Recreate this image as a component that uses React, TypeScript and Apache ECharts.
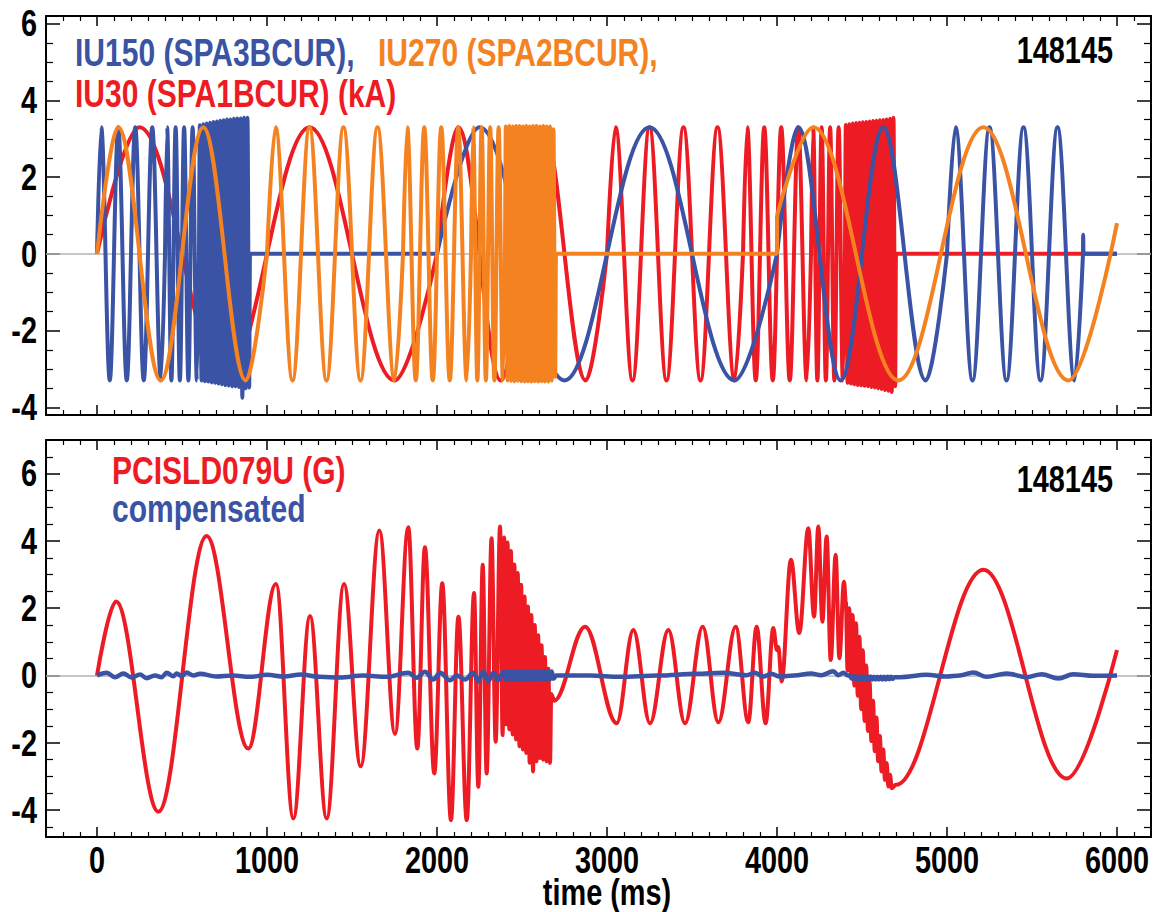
import React, { useEffect, useRef } from "react";
import * as echarts from "echarts";

const FONT = '"Liberation Sans", Arial, Helvetica, sans-serif';
const FONT_SIZE = 37;
const NARROW = 0.78;
const LEGEND_SIZE = 38;
const LEGEND_NARROW = 0.79;
const RED = "#ED1C24";
const BLUE = "#3A53A4";
const ORANGE = "#F58220";
const GRAY = "#B5B5B5";

// ---- Top panel: coil currents (kA). Segments split where the frequency changes.
const iu30Segments: number[][][] = [
  [[0, 0], [250, 3.3], [750, -3.3], [1250, 3.3], [1750, -3.3], [2000, 0]],
  [[2000, 0], [2125, 3.3], [2375, -3.3], [2625, 3.3], [2875, -3.3], [3000, 0]],
  [[3000, 0], [3050, 3.3], [3150, -3.3], [3250, 3.3], [3350, -3.3], [3450, 3.3], [3550, -3.3], [3650, 3.3], [3750, -3.3], [3800, 0]],
  [[3800, 0], [3825, 3.3], [3875, -3.3], [3925, 3.3], [3975, -3.3], [4025, 3.3], [4075, -3.3], [4125, 3.3], [4175, -3.3], [4200, 0]],
  [[4200, 0], [4212.5, 3.3], [4237.5, -3.3], [4262.5, 3.3], [4287.5, -3.3], [4312.5, 3.3], [4337.5, -3.3], [4362.5, 3.3], [4387.5, -3.3], [4400, 0]],
  [[4400, 0], [4405, 3.36], [4415, -3.36], [4425, 3.38], [4435, -3.38], [4445, 3.4], [4455, -3.4], [4465, 3.41], [4475, -3.42], [4485, 3.42], [4495, -3.43], [4505, 3.43], [4515, -3.44], [4525, 3.44], [4535, -3.45], [4545, 3.45], [4555, -3.47], [4565, 3.46], [4575, -3.48], [4585, 3.47], [4595, -3.5], [4605, 3.48], [4615, -3.52], [4625, 3.49], [4635, -3.55], [4645, 3.5], [4655, -3.57], [4665, 3.52], [4675, -3.6], [4685, 3.55], [4695, -3.45], [4700, 0], [6000, 0]],
];

const iu150Segments: number[][][] = [
  [[0, 0], [25, 3.3], [75, -3.3], [125, 3.3], [175, -3.3], [225, 3.3], [275, -3.3], [325, 3.3], [375, -3.3], [400, 0]],
  [[400, 0], [412.5, 3.3], [437.5, -3.3], [462.5, 3.3], [487.5, -3.3], [512.5, 3.3], [537.5, -3.3], [562.5, 3.3], [587.5, -3.3], [600, 0]],
  [[600, 0], [605, 3.35], [615, -3.3], [625, 3.38], [635, -3.32], [645, 3.4], [655, -3.33], [665, 3.42], [675, -3.35], [685, 3.44], [695, -3.36], [705, 3.45], [715, -3.38], [725, 3.47], [735, -3.4], [745, 3.48], [755, -3.42], [765, 3.5], [775, -3.43], [785, 3.5], [795, -3.45], [805, 3.52], [815, -3.45], [825, 3.53], [835, -3.47], [845, 3.53], [855, -3.75], [865, 3.55], [875, -3.5], [885, 3.55], [895, -3.48], [900, 0], [2000, 0]],
  [[2000, 0], [2250, 3.3], [2750, -3.3], [3250, 3.3], [3750, -3.3], [4000, 0]],
  [[4000, 0], [4125, 3.3], [4375, -3.3], [4625, 3.3], [4875, -3.3], [5000, 0]],
  [[5000, 0], [5050, 3.3], [5150, -3.3], [5250, 3.3], [5350, -3.3], [5450, 3.3], [5550, -3.3], [5650, 3.3], [5750, -3.3], [5800, 0]],
  [[5800, 0], [5801, 0.5], [5803, 0], [6000, 0]],
];

const iu270Segments: number[][][] = [
  [[0, 0], [125, 3.3], [375, -3.3], [625, 3.3], [875, -3.3], [1000, 0]],
  [[1000, 0], [1050, 3.3], [1150, -3.3], [1250, 3.3], [1350, -3.3], [1450, 3.3], [1550, -3.3], [1650, 3.3], [1750, -3.3], [1800, 0]],
  [[1800, 0], [1825, 3.3], [1875, -3.3], [1925, 3.3], [1975, -3.3], [2025, 3.3], [2075, -3.3], [2125, 3.3], [2175, -3.3], [2200, 0]],
  [[2200, 0], [2212.5, 3.3], [2237.5, -3.3], [2262.5, 3.3], [2287.5, -3.3], [2312.5, 3.3], [2337.5, -3.3], [2362.5, 3.3], [2387.5, -3.3], [2400, 0]],
  [[2400, 0], [2405, 3.32], [2415, -3.3], [2425, 3.33], [2435, -3.31], [2445, 3.32], [2455, -3.32], [2465, 3.33], [2475, -3.31], [2485, 3.33], [2495, -3.32], [2505, 3.32], [2515, -3.33], [2525, 3.33], [2535, -3.32], [2545, 3.32], [2555, -3.33], [2565, 3.33], [2575, -3.32], [2585, 3.33], [2595, -3.33], [2605, 3.32], [2615, -3.32], [2625, 3.33], [2635, -3.33], [2645, 3.32], [2655, -3.33], [2665, 3.32], [2675, -3.3], [2685, 3.25], [2695, -3.2], [2700, 0], [4000, 0], [4000, 1.0]],
  [[4000, 1.0], [4214, 3.3], [4714, -3.3], [5214, 3.3], [5714, -3.3], [6000, 0.8]],
];

// ---- Bottom panel: probe signal (G) and compensated signal.
const pcisld079u: number[][] = [
  [0, 0], [112, 2.2], [361, -4.05], [645, 4.15], [890, -2.17], [1053, 2.72], [1155, -4.25], [1253, 1.77], [1351, -4.25],
  [1453, 2.72], [1551, -2.7], [1661, 4.31], [1753, -1.74], [1831, 4.41], [1884, -2.17], [1929, 3.81], [1984, -2.91],
  [2031, 2.74], [2082, -4.3], [2126, 1.75], [2175, -4.3], [2218, 2.45], [2243, -3.31], [2269, 3.29], [2292, -2.91],
  [2321, 4.08], [2345, -1.97], [2371, 4.43], [2386, -1.77],
  [2395, 4.1], [2405, -1.45], [2415, 3.95], [2425, -1.6], [2435, 3.7], [2445, -1.75], [2455, 3.3], [2465, -1.9],
  [2475, 3.05], [2485, -2.1], [2495, 2.7], [2505, -2.2], [2515, 2.35], [2525, -2.3], [2535, 2.05], [2545, -2.6],
  [2555, 1.8], [2565, -2.85], [2575, 1.5], [2585, -2.55], [2595, 1.2], [2605, -2.45], [2615, 0.9], [2625, -2.5],
  [2635, 0.55], [2645, -2.55], [2655, 0.2], [2665, -2.6], [2672, -0.55], [2690, -0.75],
  [2871, 1.45], [3057, -1.42], [3155, 1.35], [3253, -1.42], [3361, 1.35], [3459, -1.42], [3563, 1.45], [3655, -1.39],
  [3757, 1.45], [3831, -1.39], [3880, 1.45], [3933, -1.42], [3978, 1.41], [4000, 0.75], [4008, 0.85], [4027, -0.18],
  [4082, 3.44], [4131, 1.26], [4184, 4.38], [4218, 1.75], [4243, 4.43], [4267, 1.6], [4292, 4.13], [4316, 0.46],
  [4345, 3.59], [4367, 0.51], [4394, 2.79],
  [4405, 2.2], [4415, 0.15], [4425, 2.0], [4435, 0.0], [4445, 1.8], [4455, -0.3], [4465, 1.55], [4475, -0.6],
  [4485, 1.15], [4495, -1.0], [4505, 0.75], [4515, -1.35], [4525, 0.3], [4535, -1.65], [4545, -0.2], [4555, -1.95],
  [4565, -0.75], [4575, -2.25], [4585, -1.25], [4595, -2.55], [4605, -1.8], [4615, -2.85], [4625, -2.2], [4635, -3.1],
  [4645, -2.6], [4655, -3.3], [4665, -2.95], [4675, -3.35],
  [4700, -3.25], [5214, 3.14], [5704, -3.06], [6000, 0.76],
];

const compensated: number[][] = [
  [0, 0], [57, 0.08], [106, -0.05], [155, 0.06], [204, -0.06], [253, 0.03], [292, -0.08], [341, 0.0], [380, -0.05],
  [410, 0.08], [449, -0.02], [469, 0.06], [498, -0.02], [527, 0.09], [567, 0.0], [606, 0.05], [700, -0.03], [800, 0.0],
  [900, -0.04], [1000, 0.02], [1100, -0.03], [1200, 0.03], [1312, -0.04], [1429, -0.06], [1567, 0.0], [1704, -0.04],
  [1831, 0.08], [1880, -0.07], [1929, 0.11], [1978, -0.12], [2018, 0.08], [2076, -0.14], [2116, 0.0], [2165, -0.12],
  [2214, 0.08], [2243, -0.17], [2273, 0.11], [2302, -0.17], [2331, 0.08], [2361, -0.14], [2386, 0.08],
  [2395, 0.12], [2405, -0.13], [2415, 0.13], [2425, -0.12], [2435, 0.12], [2445, -0.13], [2455, 0.13], [2465, -0.12],
  [2475, 0.12], [2485, -0.13], [2495, 0.12], [2505, -0.12], [2515, 0.13], [2525, -0.12], [2535, 0.12], [2545, -0.13],
  [2555, 0.12], [2565, -0.12], [2575, 0.12], [2585, -0.12], [2595, 0.12], [2605, -0.12], [2615, 0.12], [2625, -0.12],
  [2635, 0.12], [2645, -0.12], [2655, 0.12], [2665, -0.12], [2675, 0.12], [2685, -0.1],
  [2700, 0.0], [2900, 0.0], [3076, -0.04], [3300, 0.0], [3526, 0.05], [3684, 0.08], [3821, 0.01], [3869, 0.08],
  [3918, -0.03], [3967, 0.05], [4016, -0.03], [4100, 0.0], [4200, 0.06], [4260, 0.01], [4331, 0.13], [4360, 0.01],
  [4390, 0.08], [4420, 0.0],
  [4430, -0.02], [4440, -0.1], [4450, -0.02], [4460, -0.11], [4470, -0.03], [4480, -0.12], [4490, -0.03], [4500, -0.12],
  [4510, -0.03], [4520, -0.12], [4530, -0.03], [4540, -0.12], [4550, -0.03], [4560, -0.12], [4570, -0.04], [4580, -0.12],
  [4590, -0.04], [4600, -0.12], [4610, -0.04], [4620, -0.12], [4630, -0.04], [4640, -0.12], [4650, -0.04], [4660, -0.11],
  [4670, -0.04], [4680, -0.1], [4690, -0.05],
  [4724, -0.05], [4880, 0.02], [4997, -0.03], [5076, 0.0], [5155, 0.09], [5233, -0.04], [5351, 0.06], [5469, -0.05],
  [5557, 0.04], [5655, -0.09], [5743, 0.04], [5860, -0.01], [6000, 0.0],
];

const X_MIN = -300;
const X_MAX = 6200;
const X_STEP = 1000;
const TOP_Y = [-4.2, 6.2];
const BOT_Y = [-4.8, 7];
const Y_STEP = 2;
const X_TICK_LABELS = [0, 1000, 2000, 3000, 4000, 5000, 6000];
const Y_TICK_LABELS = [-4, -2, 0, 2, 4, 6];

const topLabels = [
  { text: "IU150 (SPA3BCUR),", color: BLUE, x: 75, y: 53 },
  { text: "IU270 (SPA2BCUR),", color: ORANGE, x: 378, y: 53 },
  { text: "IU30 (SPA1BCUR) (kA)", color: RED, x: 75, y: 94 },
];
const bottomLabels = [
  { text: "PCISLD079U (G)", color: RED, x: 112, y: 471 },
  { text: "compensated", color: BLUE, x: 112, y: 509 },
];
const SHOT = "148145";
const X_NAME = "time (ms)";

function joinSegments(segs: number[][][]) {
  const out: any[] = [];
  segs.forEach((s, i) => {
    if (i > 0) out.push([s[0][0], null]);
    s.forEach((p) => out.push(p));
  });
  return out;
}

const lineBase = {
  type: "line",
  showSymbol: false,
  symbol: "none",
  smooth: 0.36,
  smoothMonotone: "x",
  connectNulls: false,
  silent: true,
};

function xAxisDef(gridIndex: number, position: string) {
  return {
    type: "value",
    gridIndex,
    position,
    min: X_MIN,
    max: X_MAX,
    splitNumber: 7,
    minInterval: X_STEP,
    maxInterval: X_STEP,
    axisLine: { show: true, onZero: false, lineStyle: { color: "#000", width: 2 } },
    axisTick: { show: true, inside: true, length: 10, lineStyle: { color: "#000", width: 1.5 } },
    minorTick: { show: true, splitNumber: 10, length: 5, lineStyle: { color: "#000", width: 1.2 } },
    splitLine: { show: false },
    axisLabel: { show: false },
  };
}

function yAxisDef(gridIndex: number, position: string, range: number[]) {
  return {
    type: "value",
    gridIndex,
    position,
    min: range[0],
    max: range[1],
    splitNumber: 5,
    minInterval: Y_STEP,
    maxInterval: Y_STEP,
    axisLine: { show: true, onZero: false, lineStyle: { color: "#000", width: 2 } },
    axisTick: { show: true, inside: true, length: 14, lineStyle: { color: "#000", width: 1.5 } },
    minorTick: { show: true, splitNumber: 4, length: 7, lineStyle: { color: "#000", width: 1.2 } },
    splitLine: { show: false },
    axisLabel: { show: false },
  };
}

function textEl(text: string, color: string, x: number, y: number, align = "left", size = FONT_SIZE, narrow = NARROW) {
  return {
    type: "text",
    x,
    y,
    scaleX: narrow,
    scaleY: 1,
    silent: true,
    style: {
      text,
      fill: color,
      fontSize: size,
      fontWeight: "bold",
      fontFamily: FONT,
      align,
      verticalAlign: "middle",
    },
  };
}

const zeroLine = {
  silent: true,
  z: 1,
  symbol: "none",
  label: { show: false },
  lineStyle: { color: GRAY, width: 1.5, type: "solid" },
  data: [{ yAxis: 0 }],
};

export default function App() {
  const ref = useRef<HTMLDivElement>(null);
  useEffect(() => {
    document.body.style.margin = "0";
    const chart = echarts.init(ref.current!, null, { renderer: "svg" });
    const option: any = {
      animation: false,
      backgroundColor: "#fff",
      grid: [
        { left: 46, top: 16, width: 1105, height: 399, show: false },
        { left: 46, top: 440, width: 1105, height: 397, show: false },
      ],
      xAxis: [xAxisDef(0, "bottom"), xAxisDef(0, "top"), xAxisDef(1, "bottom"), xAxisDef(1, "top")],
      yAxis: [yAxisDef(0, "left", TOP_Y), yAxisDef(0, "right", TOP_Y), yAxisDef(1, "left", BOT_Y), yAxisDef(1, "right", BOT_Y)],
      series: [
        { ...lineBase, name: "IU30", xAxisIndex: 0, yAxisIndex: 0, z: 2, data: joinSegments(iu30Segments), lineStyle: { color: RED, width: 4 }, itemStyle: { color: RED }, markLine: zeroLine },
        { ...lineBase, name: "IU150", xAxisIndex: 0, yAxisIndex: 0, z: 3, data: joinSegments(iu150Segments), lineStyle: { color: BLUE, width: 4 }, itemStyle: { color: BLUE } },
        { ...lineBase, name: "IU270", xAxisIndex: 0, yAxisIndex: 0, z: 4, data: joinSegments(iu270Segments), lineStyle: { color: ORANGE, width: 4 }, itemStyle: { color: ORANGE } },
        { ...lineBase, name: "PCISLD079U", xAxisIndex: 2, yAxisIndex: 2, z: 2, data: pcisld079u, lineStyle: { color: RED, width: 4 }, itemStyle: { color: RED }, markLine: zeroLine },
        { ...lineBase, name: "compensated", xAxisIndex: 2, yAxisIndex: 2, z: 3, data: compensated, lineStyle: { color: BLUE, width: 4.5 }, itemStyle: { color: BLUE } },
      ],
    };
    chart.setOption(option);

    // Tick labels placed through the axes' own scales, drawn as condensed bold text.
    const graphics: any[] = [];
    X_TICK_LABELS.forEach((v) => {
      const px = chart.convertToPixel({ xAxisIndex: 2 }, v) as number;
      graphics.push(textEl(String(v), "#000", px, 860, "center"));
    });
    [0, 2].forEach((yi) => {
      Y_TICK_LABELS.forEach((v) => {
        const py = chart.convertToPixel({ yAxisIndex: yi }, v) as number;
        graphics.push(textEl(String(v), "#000", 37, py, "right"));
      });
    });
    topLabels.forEach((l) => graphics.push(textEl(l.text, l.color, l.x, l.y, "left", LEGEND_SIZE, LEGEND_NARROW)));
    graphics.push(textEl(SHOT, "#000", 1113, 50, "right"));
    bottomLabels.forEach((l) => graphics.push(textEl(l.text, l.color, l.x, l.y, "left", LEGEND_SIZE, LEGEND_NARROW)));
    graphics.push(textEl(SHOT, "#000", 1113, 479, "right"));
    graphics.push(textEl(X_NAME, "#000", 607, 892, "center"));
    chart.setOption({ graphic: graphics });

    return () => chart.dispose();
  }, []);
  return <div ref={ref} style={{ position: "absolute", left: 0, top: 0, width: 1155, height: 912 }} />;
}
